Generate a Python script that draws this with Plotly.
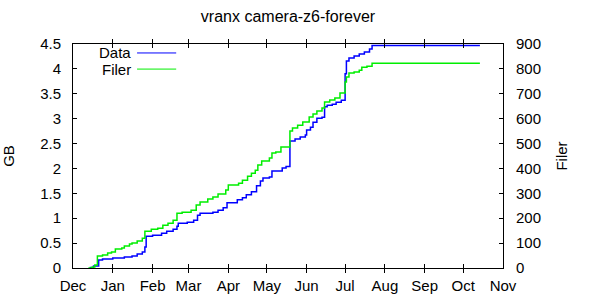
import plotly.graph_objects as go

# ---- data ----
data_dates = ["2018-12-14", "2018-12-17", "2018-12-21", "2018-12-24", "2019-01-01", "2019-01-10",
              "2019-01-16", "2019-01-20", "2019-01-24", "2019-01-26", "2019-01-27", "2019-02-01",
              "2019-02-08", "2019-02-12", "2019-02-17", "2019-02-20", "2019-02-21", "2019-02-28",
              "2019-03-05", "2019-03-08", "2019-03-10", "2019-03-20", "2019-03-24", "2019-03-28",
              "2019-03-31", "2019-04-08", "2019-04-12", "2019-04-15", "2019-04-19", "2019-04-23",
              "2019-04-26", "2019-04-28", "2019-05-03", "2019-05-05", "2019-05-13", "2019-05-16",
              "2019-05-19", "2019-05-23", "2019-05-27", "2019-05-31", "2019-06-01", "2019-06-04",
              "2019-06-06", "2019-06-09", "2019-06-13", "2019-06-15", "2019-06-17", "2019-06-21",
              "2019-06-24", "2019-06-28", "2019-07-01", "2019-07-02", "2019-07-04", "2019-07-08",
              "2019-07-12", "2019-07-16", "2019-07-20", "2019-07-22", "2019-10-14"]
data_gb = [0.01, 0.04, 0.16, 0.18, 0.20, 0.22,
           0.24, 0.28, 0.32, 0.42, 0.64, 0.66,
           0.70, 0.74, 0.78, 0.84, 0.90, 0.92,
           0.96, 1.06, 1.10, 1.12, 1.16, 1.21,
           1.31, 1.37, 1.41, 1.47, 1.53, 1.65,
           1.75, 1.81, 1.83, 1.95, 2.01, 2.04,
           2.55, 2.59, 2.63, 2.67, 2.77, 2.83,
           2.93, 3.01, 3.03, 3.24, 3.27, 3.29,
           3.33, 3.37, 3.90, 4.16, 4.22, 4.26,
           4.30, 4.34, 4.40, 4.47, 4.47]

filer_dates = ["2018-12-13", "2018-12-16", "2018-12-18", "2018-12-20", "2018-12-24", "2018-12-28",
               "2018-12-31", "2019-01-03", "2019-01-08", "2019-01-10", "2019-01-14", "2019-01-16",
               "2019-01-20", "2019-01-24", "2019-01-26", "2019-01-31", "2019-02-05", "2019-02-09",
               "2019-02-13", "2019-02-17", "2019-02-20", "2019-02-24", "2019-03-03", "2019-03-07",
               "2019-03-10", "2019-03-16", "2019-03-20", "2019-03-24", "2019-03-30", "2019-04-01",
               "2019-04-09", "2019-04-12", "2019-04-16", "2019-04-19", "2019-04-22", "2019-04-24",
               "2019-04-27", "2019-05-03", "2019-05-05", "2019-05-08", "2019-05-12", "2019-05-19",
               "2019-05-21", "2019-05-25", "2019-05-29", "2019-06-03", "2019-06-06", "2019-06-09",
               "2019-06-13", "2019-06-15", "2019-06-19", "2019-06-23", "2019-06-27", "2019-07-01",
               "2019-07-02", "2019-07-04", "2019-07-08", "2019-07-12", "2019-07-14", "2019-07-18",
               "2019-07-22", "2019-10-14"]
filer_count = [0, 4, 12, 48, 52, 60,
               64, 76, 80, 88, 96, 100,
               108, 120, 148, 156, 160, 172,
               180, 192, 220, 224, 232, 253,
               265, 277, 285, 297, 313, 333,
               341, 353, 369, 381, 393, 414,
               430, 442, 462, 466, 486, 550,
               562, 574, 587, 607, 619, 631,
               643, 667, 675, 683, 703, 747,
               767, 783, 787, 795, 807, 811,
               823, 823]

month_ticks = ["2018-12-01", "2019-01-01", "2019-02-01", "2019-03-01", "2019-04-01", "2019-05-01",
               "2019-06-01", "2019-07-01", "2019-08-01", "2019-09-01", "2019-10-01", "2019-11-01"]
month_labels = ["Dec", "Jan", "Feb", "Mar", "Apr", "May", "Jun", "Jul", "Aug", "Sep", "Oct", "Nov"]
gb_ticks = [0, 0.5, 1, 1.5, 2, 2.5, 3, 3.5, 4, 4.5]
gb_labels = ["0", "0.5", "1", "1.5", "2", "2.5", "3", "3.5", "4", "4.5"]
filer_ticks = [0, 100, 200, 300, 400, 500, 600, 700, 800, 900]

title = "vranx camera-z6-forever"
BLUE = "#0000ff"
GREEN = "#00ee00"
FONT = "Liberation Sans"
FS = 15

fig = go.Figure()
fig.add_trace(go.Scatter(x=data_dates, y=data_gb, mode="lines", line=dict(color=BLUE, width=1.5, shape="hv"),
                         name="Data", yaxis="y", showlegend=False))
fig.add_trace(go.Scatter(x=filer_dates, y=filer_count, mode="lines", line=dict(color=GREEN, width=1.5, shape="hv"),
                         name="Filer", yaxis="y2", showlegend=False))

axis_common = dict(showgrid=False, zeroline=False, showline=True, linecolor="black", linewidth=1,
                   automargin=False,
                   ticks="inside", ticklen=4, tickcolor="black", tickfont=dict(family=FONT, size=FS, color="black"))

fig.update_layout(
    width=600, height=300,
    margin=dict(l=73, r=97, t=44, b=32),
    paper_bgcolor="white", plot_bgcolor="white",
    font=dict(family=FONT, size=FS, color="black"),
    title=dict(text=title, x=(73 + 215) / 600, xanchor="center", y=1 - 16 / 300, yanchor="middle",
               font=dict(family=FONT, size=16, color="black")),
    xaxis=dict(type="date", range=[month_ticks[0], month_ticks[-1]], tickvals=month_ticks, ticktext=month_labels,
               mirror="allticks", ticklabelstandoff=4, **axis_common),
    yaxis=dict(range=[0, 4.5], tickvals=gb_ticks, ticktext=gb_labels, mirror=True, ticklabelstandoff=8,
               title=dict(text="GB", standoff=22, font=dict(family=FONT, size=FS)), **axis_common),
    yaxis2=dict(range=[0, 900], tickvals=filer_ticks, overlaying="y", side="right", ticklabelstandoff=9,
                title=dict(text="Filer", standoff=16, font=dict(family=FONT, size=FS)), **axis_common),
)

# gnuplot-style key: label then line sample
key_items = [("Data", BLUE, 0.96), ("Filer", GREEN, 0.888)]
for label, color, yk in key_items:
    fig.add_annotation(text=label, xref="paper", yref="paper", x=0.140, y=yk, xanchor="right", yanchor="middle",
                       showarrow=False, font=dict(family=FONT, size=FS, color="black"))
    fig.add_shape(type="line", xref="paper", yref="paper", x0=0.149, x1=0.240, y0=yk, y1=yk,
                  line=dict(color=color, width=1))

fig.write_html("out.html")
